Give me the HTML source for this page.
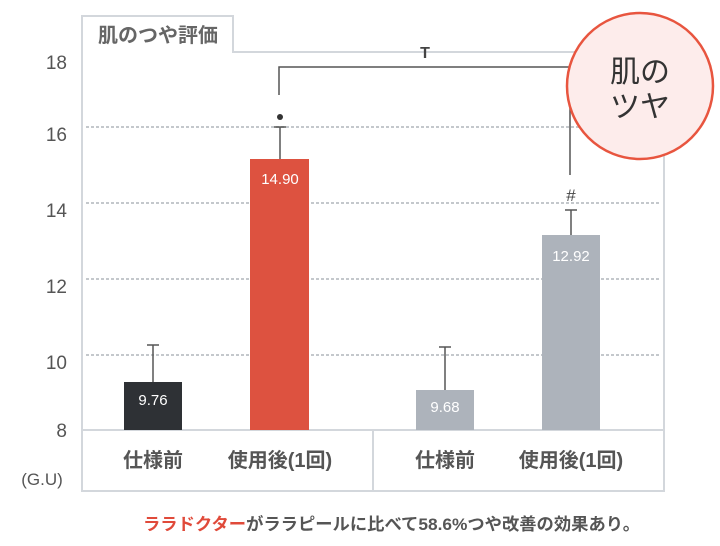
<!DOCTYPE html>
<html><head><meta charset="utf-8"><style>
html,body{margin:0;padding:0;background:#fff;width:720px;height:546px;overflow:hidden}
svg{display:block}
text{font-family:"Liberation Sans","Noto Sans CJK JP",sans-serif}
</style></head><body>
<svg width="720" height="546" viewBox="0 0 720 546" xmlns="http://www.w3.org/2000/svg">
<g stroke="#d3d7dc" stroke-width="2" fill="none">
<path d="M82 52 V491 H664 V52 H233 V16 H82 V52"/>
<line x1="82" y1="430" x2="664" y2="430"/>
<line x1="373" y1="430" x2="373" y2="491"/>
</g>
<text x="158" y="42" font-size="20" fill="#666" text-anchor="middle" font-weight="bold">肌のつや評価</text>
<g stroke="#c4c8cc" stroke-width="2" stroke-dasharray="3,2">
<line x1="86" y1="127" x2="660" y2="127"/>
<line x1="86" y1="203" x2="660" y2="203"/>
<line x1="86" y1="279" x2="660" y2="279"/>
<line x1="86" y1="355" x2="660" y2="355"/>
</g>
<g font-size="19" fill="#555" text-anchor="end">
<text x="67" y="69">18</text>
<text x="67" y="141">16</text>
<text x="67" y="217">14</text>
<text x="67" y="293">12</text>
<text x="67" y="369">10</text>
<text x="67" y="437">8</text>
</g>
<text x="42" y="485" font-size="17" fill="#555" text-anchor="middle">(G.U)</text>
<g stroke="#555" stroke-width="1.5">
<line x1="153" y1="382" x2="153" y2="345"/><line x1="147" y1="345" x2="159" y2="345"/>
<line x1="280" y1="159" x2="280" y2="127"/><line x1="274" y1="127" x2="286" y2="127"/>
<line x1="445" y1="390" x2="445" y2="347"/><line x1="439" y1="347" x2="451" y2="347"/>
<line x1="571" y1="235" x2="571" y2="210"/><line x1="565" y1="210" x2="577" y2="210"/>
<path d="M279 95 V67 H570 V175" fill="none"/>
</g>
<rect x="124" y="382" width="58" height="48" fill="#2e3135"/>
<rect x="250" y="159" width="59" height="271" fill="#dd5240"/>
<rect x="416" y="390" width="58" height="40" fill="#adb3bb"/>
<rect x="542" y="235" width="58" height="195" fill="#adb3bb"/>
<g font-size="15" fill="#fff" text-anchor="middle">
<text x="153" y="405">9.76</text>
<text x="280" y="184">14.90</text>
<text x="445" y="412">9.68</text>
<text x="571" y="261">12.92</text>
</g>
<circle cx="280" cy="117" r="3" fill="#333"/>
<text x="571" y="201" font-size="17" fill="#444" text-anchor="middle">#</text>
<text x="425" y="58" font-size="16" fill="#444" text-anchor="middle" font-weight="bold">T</text>
<g font-size="20" fill="#555" text-anchor="middle" font-weight="bold">
<text x="153" y="467">仕様前</text>
<text x="280" y="467">使用後(1回)</text>
<text x="445" y="467">仕様前</text>
<text x="571" y="467">使用後(1回)</text>
</g>
<circle cx="640" cy="86" r="73" fill="#fdeceb" stroke="#e8553f" stroke-width="2.5"/>
<text x="640" y="82" font-size="30" fill="#333" text-anchor="middle">肌の</text>
<text x="640" y="117" font-size="30" fill="#333" text-anchor="middle">ツヤ</text>
<text x="143" y="530" font-size="17" font-weight="bold" fill="#555" textLength="497" lengthAdjust="spacingAndGlyphs"><tspan fill="#e04a3a">ララドクター</tspan>がララピールに比べて58.6%つや改善の効果あり。</text>
</svg>
</body></html>
